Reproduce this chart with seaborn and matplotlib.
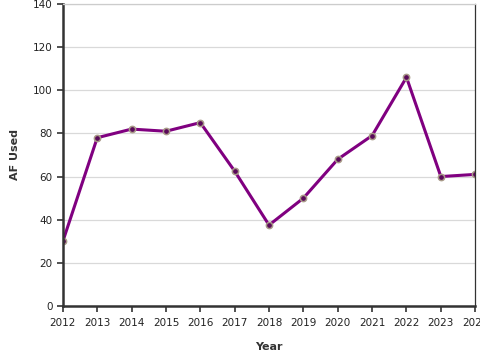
import matplotlib
matplotlib.use("Agg")
import matplotlib.pyplot as plt
import pandas as pd
import seaborn as sns

# Data
years = [2012, 2013, 2014, 2015, 2016, 2017, 2018, 2019, 2020, 2021, 2022, 2023, 2024]
af_used = [30, 78, 82, 81, 85, 62.5, 37.5, 50, 68, 79, 106, 60, 61]
y_ticks = [0, 20, 40, 60, 80, 100, 120, 140]

df = pd.DataFrame({"Year": years, "AF Used": af_used})

sns.set_style("white")
plt.rcParams["font.family"] = ["DejaVu Sans"]

fig = plt.figure(figsize=(4.8, 3.6), dpi=100)
ax = fig.add_axes([0.131, 0.15, 0.859, 0.839])

sns.lineplot(data=df, x="Year", y="AF Used", ax=ax, color="#800080", linewidth=2.2,
             marker="o", markersize=4.5, markerfacecolor="#5a0a5a",
             markeredgecolor="#a89a88", markeredgewidth=1.1)

ax.set_xlim(2012, 2024)
ax.set_ylim(0, 140)
ax.set_xticks(years)
ax.set_yticks(y_ticks)
ax.yaxis.grid(True, color="#d9d9d9", linewidth=0.9)
ax.set_axisbelow(True)

ax.tick_params(axis="both", labelsize=7.5, colors="#333333", length=4, width=1.2,
               direction="out", bottom=True, left=True)
ax.tick_params(axis="x", pad=5)
for lbl in ax.get_xticklabels() + ax.get_yticklabels():
    lbl.set_color("#222222")

ax.spines["left"].set_linewidth(1.8)
ax.spines["bottom"].set_linewidth(1.8)
ax.spines["left"].set_color("#333333")
ax.spines["bottom"].set_color("#333333")
ax.spines["right"].set_linewidth(0.9)
ax.spines["right"].set_color("#333333")
ax.spines["top"].set_linewidth(0.9)
ax.spines["top"].set_color("#cccccc")

ax.set_xlabel("Year", fontsize=8, fontweight="bold", color="#333333", labelpad=10)
ax.set_ylabel("AF Used", fontsize=8, fontweight="bold", color="#333333", labelpad=9)

fig.savefig("out.png", dpi=100)
